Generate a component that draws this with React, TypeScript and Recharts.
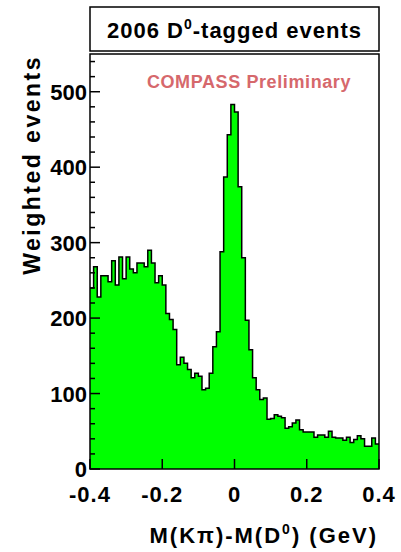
import React from 'react';
import { AreaChart, Area, XAxis, YAxis, ReferenceArea } from 'recharts';

// histogram: 80 bins of 10 MeV between -0.4 and 0.4 GeV
const binLow = -0.4;
const binWidth = 0.01;
const counts = [
  240, 268, 228, 256, 256, 248, 276, 244, 281, 252,
  281, 265, 260, 273, 273, 268, 290, 273, 247, 256,
  244, 206, 198, 185, 138, 148, 140, 132, 121, 127,
  123, 105, 107, 127, 162, 182, 288, 387, 443, 483,
  473, 374, 280, 197, 158, 121, 105, 92, 94, 66,
  67, 72, 70, 68, 54, 56, 61, 65, 52, 49,
  49, 49, 42, 45, 45, 42, 50, 42, 41, 41,
  38, 42, 35, 39, 44, 40, 30, 30, 41, 33,
];

const xTicks = [-0.4, -0.2, 0, 0.2, 0.4];
const yTicks = [
  0, 20, 40, 60, 80, 100, 120, 140, 160, 180, 200, 220, 240, 260,
  280, 300, 320, 340, 360, 380, 400, 420, 440, 460, 480, 500, 520, 540,
];
const yLabels = [0, 100, 200, 300, 400, 500];

const font = '"Liberation Sans", Arial, Helvetica, sans-serif';

// step points at the left edge of every bin, plus the closing edge
const histData = counts.map((n, i) => ({ x: +(binLow + i * binWidth).toFixed(3), n }));
histData.push({ x: 0.4, n: counts[counts.length - 1] });

const XTick = ({ x, y, payload }: any) => {
  const v = payload.value;
  const label = v === 0 ? '0' : v.toFixed(1);
  return (
    <g>
      <line x1={x} y1={y} x2={x} y2={y - 10} stroke="#000" strokeWidth={1.5} />
      <text x={x} y={y + 33} textAnchor="middle" fontSize={22} fontWeight="bold"
        fontFamily={font} letterSpacing={1} fill="#000">{label}</text>
    </g>
  );
};

const YTick = ({ x, y, payload }: any) => {
  const major = yLabels.includes(payload.value);
  return (
    <g>
      <line x1={x} y1={y} x2={x + (major ? 10 : 5)} y2={y} stroke="#000" strokeWidth={1.5} />
      {major && (
        <text x={x - 3} y={y + 8} textAnchor="end" fontSize={22} fontWeight="bold"
          fontFamily={font} fill="#000">{payload.value}</text>
      )}
    </g>
  );
};

export default function App() {
  return (
    <div style={{ position: 'absolute', left: 0, top: 0, width: 401, height: 552, background: '#fff' }}>
      <AreaChart width={401} height={552} data={histData}
        margin={{ top: 54, right: 22, bottom: 43, left: 50 }}>
        <Area type="stepAfter" dataKey="n" stroke="#000" strokeWidth={1.5}
          fill="#00ff00" fillOpacity={1} isAnimationActive={false} dot={false} activeDot={false} />
        <XAxis type="number" dataKey="x" domain={[-0.4, 0.4]} ticks={xTicks} interval={0}
          axisLine={false} tickLine={false} tickSize={0} tickMargin={0} height={40} tick={<XTick />} />
        <YAxis type="number" domain={[0, 550]} ticks={yTicks} interval={0}
          axisLine={false} tickLine={false} tickSize={0} tickMargin={0} width={40} tick={<YTick />} />
        <ReferenceArea x1={-0.4} x2={0.4} y1={0} y2={550} fill="none" stroke="#000" strokeWidth={1.5} />
      </AreaChart>
      <svg width={401} height={552} style={{ position: 'absolute', left: 0, top: 0, pointerEvents: 'none' }}
        fontFamily={font} fontWeight="bold">
        <rect x={90} y={7} width={289} height={44} fill="#fff" stroke="#000" strokeWidth={1.5} />
        <text x={234.5} y={38} textAnchor="middle" fontSize={22} letterSpacing={1}>
          2006 D<tspan dy={-9} fontSize={14}>0</tspan><tspan dy={9}>-tagged events</tspan>
        </text>
        <text x={249} y={88} textAnchor="middle" fontSize={18} letterSpacing={0.6} fill="#d6686c">
          COMPASS Preliminary
        </text>
        <text x={378} y={543} textAnchor="end" fontSize={22} letterSpacing={2}>
          M(K<tspan>π</tspan>)-M(D<tspan dy={-9} fontSize={14}>0</tspan><tspan dy={9}>) (GeV)</tspan>
        </text>
        <text transform="translate(40,55) rotate(-90)" x={0} y={0} textAnchor="end"
          fontSize={23} letterSpacing={2.5}>
          Weighted events
        </text>
      </svg>
    </div>
  );
}
